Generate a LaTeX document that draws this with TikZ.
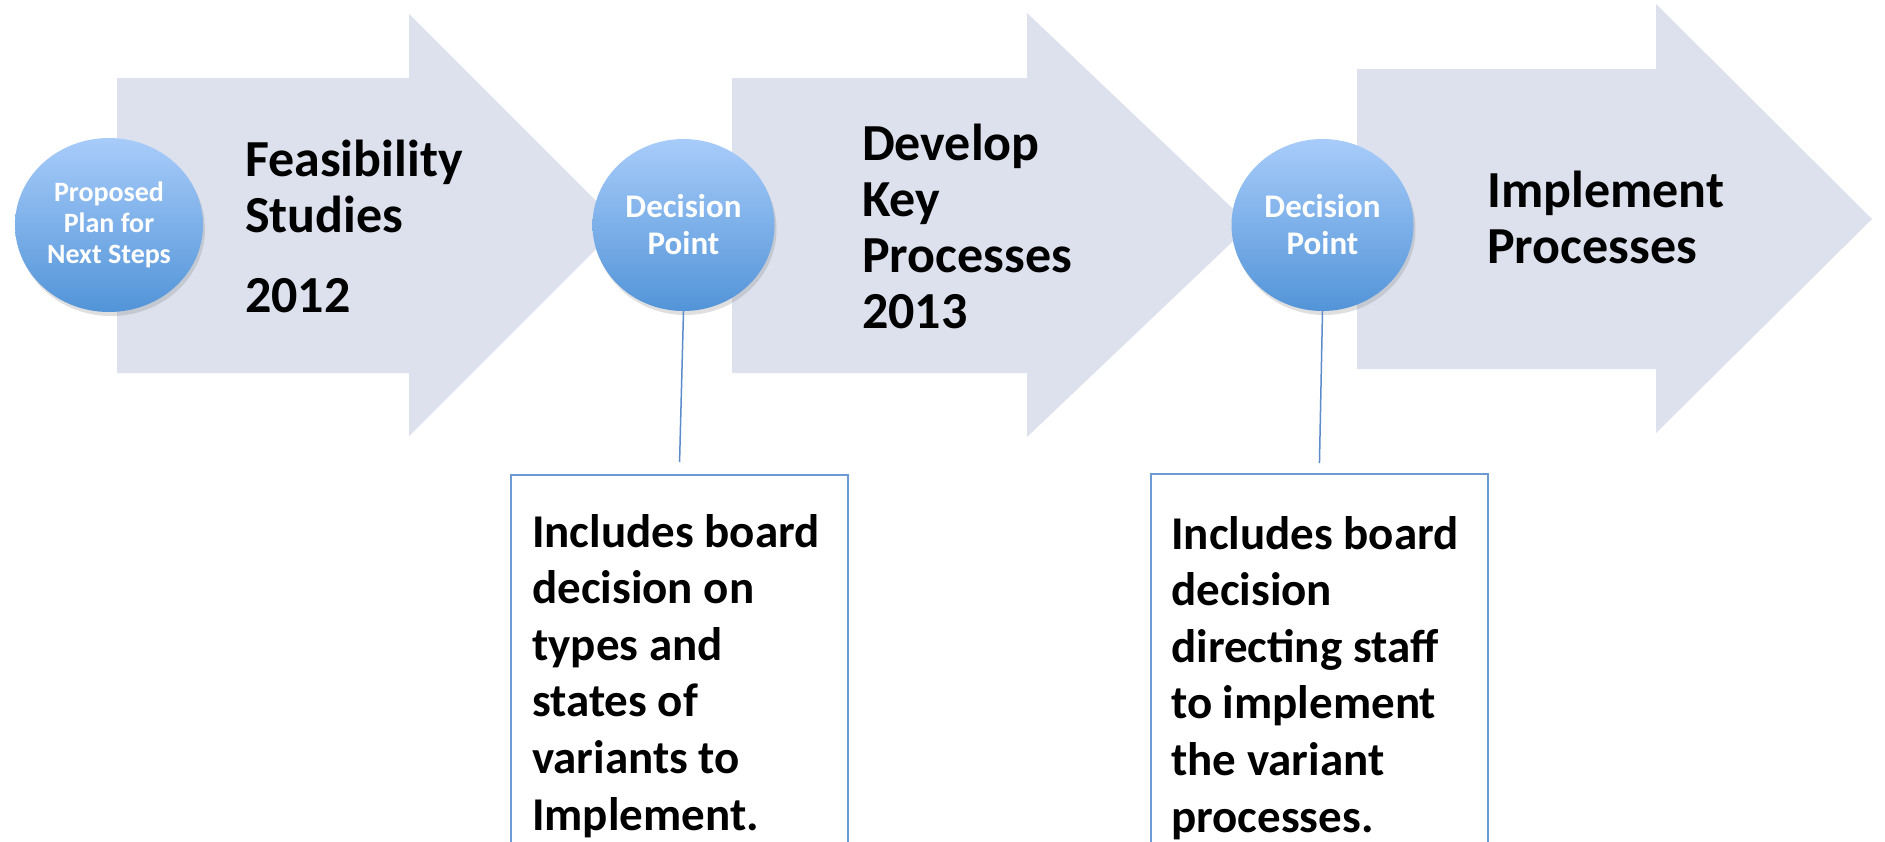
\documentclass[tikz,border=0pt]{standalone}
\usepackage{fontspec}
\setmainfont{Carlito}
\usetikzlibrary{shapes.geometric,shadows}
\definecolor{stagefill}{RGB}{220,225,237}
\definecolor{balltop}{RGB}{168,204,250}
\definecolor{ballbottom}{RGB}{82,148,216}
\definecolor{frameblue}{RGB}{108,154,210}
\definecolor{stemblue}{RGB}{92,140,204}
\tikzstyle{ball}=[ellipse, minimum width=182pt, minimum height=172pt, inner sep=0pt, top color=balltop, bottom color=ballbottom, text=white, align=center, drop shadow={shadow xshift=2pt, shadow yshift=-4pt, opacity=.25}]
\tikzstyle{title}=[anchor=base west, align=left, inner sep=0pt, font=\fontsize{52}{56}\selectfont\bfseries]
\tikzstyle{note}=[draw=frameblue, line width=1.5pt, fill=white, anchor=north west, minimum width=337pt, minimum height=420pt, inner sep=0pt]
\tikzstyle{notetext}=[anchor=base west, align=left, inner sep=0pt, font=\fontsize{47}{56.6}\selectfont\bfseries]
\tikzstyle{stem}=[draw=stemblue, line width=1.5pt]

\begin{document}
\begin{tikzpicture}[x=1pt,y=-1pt]
  \useasboundingbox (0,0) rectangle (1885,841);
  \fill[white] (0,0) rectangle (1885,841);

  %% Stage arrows
  \fill[stagefill] (117,78) -- (409,78) -- (409,14) -- (620,225) -- (409,436) -- (409,373) -- (117,373) -- cycle;
  \fill[stagefill] (732,78) -- (1027,78) -- (1027,13) -- (1250,225) -- (1027,437) -- (1027,373) -- (732,373) -- cycle;
  \fill[stagefill] (1357,69) -- (1656,69) -- (1656,4) -- (1872,219) -- (1656,433) -- (1656,369) -- (1357,369) -- cycle;

  %% base anchor sits on the last line
  \node[title] (feas) at (245,312) {Feasibility\\Studies\\[24pt]2012};
  \node[title] (dev) at (862,328) {Develop\\Key\\Processes\\2013};
  \node[title] (impl) at (1487,263) {Implement\\Processes};

  %% Circles
  \node[ball, minimum width=188pt, minimum height=174pt, font=\fontsize{28}{31}\selectfont\bfseries] (plan) at (109,225) {Proposed\\Plan for\\Next Steps};
  \node[ball, font=\fontsize{33}{37}\selectfont\bfseries] (dp1) at (683.5,225) {Decision\\Point};
  \node[ball, font=\fontsize{33}{37}\selectfont\bfseries] (dp2) at (1322.5,225) {Decision\\Point};

  %% Boxes below
  \node[note] (box1) at (510,474) {};
  \node[note] (box2) at (1150,473) {};
  \node[notetext] (txt1) at (532,830) {Includes board\\decision on\\types and\\states of\\variants to\\Implement.};
  \node[notetext] (txt2) at (1171,832) {Includes board\\decision\\directing staff\\to implement\\the variant\\processes.};

  \draw[stem, shorten >=12pt] (dp1.south) -- (box1.north);
  \draw[stem, shorten >=10pt] (dp2.south) -- (box2.north);
\end{tikzpicture}
\end{document}
